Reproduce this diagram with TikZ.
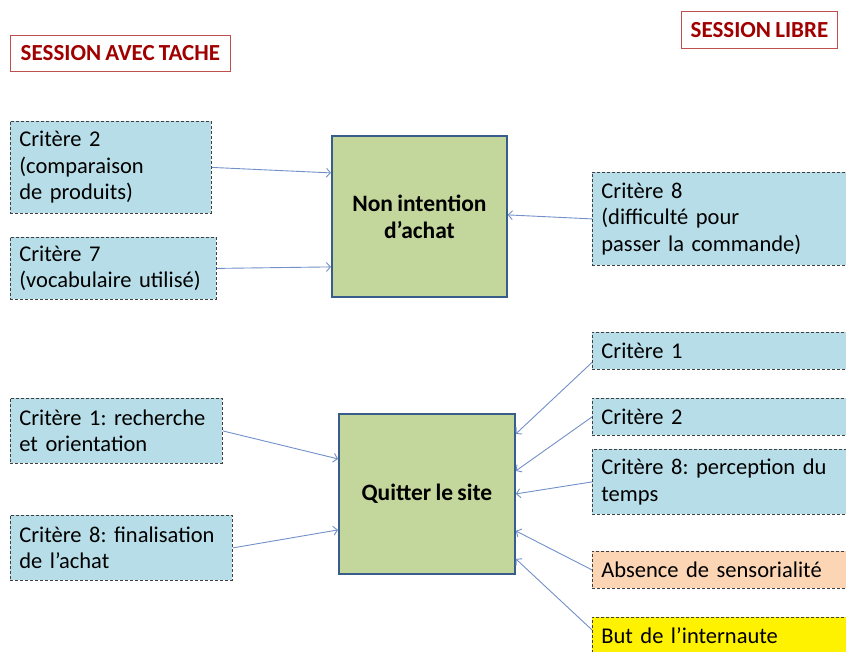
\documentclass[tikz,border=0pt]{standalone}
\usepackage{fontspec}
\setmainfont[WordSpace=0.8]{Carlito}
\frenchspacing
\usetikzlibrary{arrows.meta}

\definecolor{critblue}{HTML}{B7DEE8}
\definecolor{resgreen}{HTML}{C3D69B}
\definecolor{resline}{HTML}{385D8A}
\definecolor{peach}{HTML}{FCD5B5}
\definecolor{titlered}{HTML}{C0504D}
\definecolor{titletext}{HTML}{A00000}
\definecolor{arrowblue}{HTML}{7390C8}

\tikzset{
    crit/.style={draw=black!75, fill=critblue, dash pattern=on 3pt off 2pt, line width=0.8pt,
        anchor=north west, align=left, inner xsep=9pt, inner ysep=0pt,
        font=\fontsize{22.5}{26.5}\selectfont},
    result/.style={draw=resline, fill=resgreen, line width=1.8pt, anchor=north west,
        align=center, font=\bfseries\fontsize{23.5}{27}\selectfont},
    sessiontitle/.style={draw=titlered, line width=0.8pt, text=titletext, anchor=north west,
        inner sep=0pt, font=\bfseries\fontsize{23}{24}\selectfont},
    link/.style={draw=arrowblue, line width=0.9pt, -{Straight Barb[length=4pt,width=9pt]}}
}

\begin{document}
\begin{tikzpicture}[x=1pt,y=-1pt]
    \clip (0,0) rectangle (846,651);
    \fill[white] (0,0) rectangle (846,651);

    % titles
    \node[sessiontitle, minimum width=220pt, minimum height=36pt] (avec) at (10,35) {SESSION AVEC TACHE};
    \node[sessiontitle, minimum width=156pt, minimum height=37pt] (libre) at (681,11) {SESSION LIBRE};

    % non intention d'achat
    \node[result, minimum width=175pt, minimum height=161pt] (ni) at (331,135) {Non intention\\d’achat};
    \node[crit, text width=183pt, minimum height=92pt] (c2) at (10,121) {Critère 2\\(comparaison\\de produits)};
    \node[crit, text width=188pt, minimum height=62pt] (c7) at (10,237) {Critère 7\\(vocabulaire utilisé)};
    \node[crit, text width=242pt, minimum height=93pt] (c8) at (592,172) {Critère 8\\(difficulté pour\\passer la commande)};

    % quitter le site
    \node[result, minimum width=176pt, minimum height=160pt] (qs) at (338,413) {Quitter le site};
    \node[crit, text width=194pt, minimum height=65pt] (l1) at (10,398) {Critère 1: recherche\\et orientation};
    \node[crit, text width=204pt, minimum height=65pt] (l8) at (10,515) {Critère 8: finalisation\\de l’achat};
    \node[crit, text width=242pt, minimum height=37pt] (r1) at (592,332) {Critère 1};
    \node[crit, text width=242pt, minimum height=37pt] (r2) at (592,398) {Critère 2};
    \node[crit, text width=242pt, minimum height=65pt] (r8) at (592,449) {Critère 8: perception du\\temps};
    \node[crit, fill=peach, text width=242pt, minimum height=37pt] (abs) at (592,551) {Absence de sensorialité};
    \node[crit, fill=yellow, text width=242pt, minimum height=37pt] (but) at (592,617) {But de l’internaute};

    % liens
    \draw[link] (c2.east) -- ([yshift=43.5pt]ni.west);
    \draw[link] (c7.east) -- ([yshift=-50.5pt]ni.west);
    \draw[link] (c8.west) -- ([yshift=1.5pt]ni.east);
    \draw[link] (l1.east) -- ([yshift=35pt]qs.west);
    \draw[link] (l8.east) -- ([yshift=-36pt]qs.west);
    \draw[link] ([yshift=-11.5pt]r1.west) -- ([yshift=60pt]qs.east);
    \draw[link] (r2.west) -- ([yshift=23pt]qs.east);
    \draw[link] (r8.west) -- (qs.east);
    \draw[link] (abs.west) -- ([yshift=-37pt]qs.east);
    \draw[link] ([yshift=6pt]but.west) -- ([yshift=-65pt]qs.east);
\end{tikzpicture}
\end{document}
